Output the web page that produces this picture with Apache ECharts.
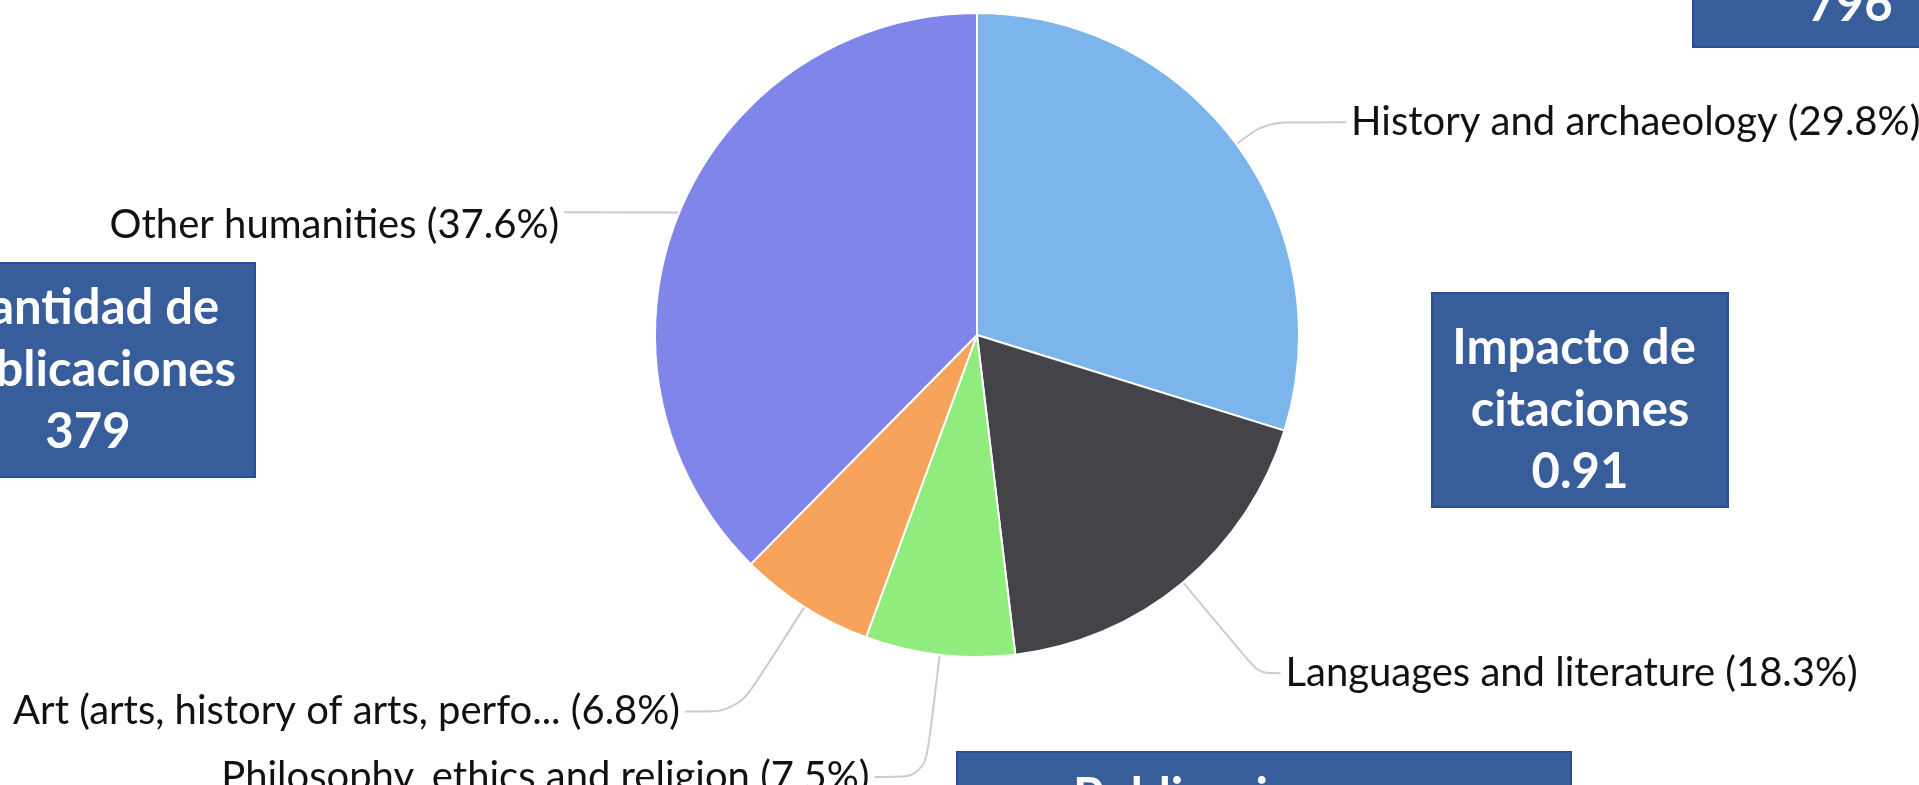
<!DOCTYPE html>
<html>
<head>
<meta charset="utf-8">
<script src="https://cdn.jsdelivr.net/npm/echarts@6/dist/echarts.min.js"></script>
<style>
html,body{margin:0;padding:0;background:#ffffff;overflow:hidden}
#chart{width:1919px;height:785px}
</style>
</head>
<body>
<div id="chart"></div>
<script>
// ---- data ----
const categories = [
  'History and archaeology',
  'Languages and literature',
  'Philosophy, ethics and religion',
  'Art (arts, history of arts, perfo...',
  'Other humanities'
];
const shares = [29.8, 18.3, 7.5, 6.8, 37.6];
const sliceColors = ['#7cb5ec', '#434348', '#90ed7d', '#f7a35c', '#8085e9'];

// overlay boxes text
const boxPublicationsLines = ['Cantidad de', 'publicaciones', '379'];
const boxImpactLines = ['Impacto de ', 'citaciones', '0.91'];
const boxTopRightLines = ['796'];
const boxBottomLines = ['Publicaciones'];

// label line styling (per slice)
const lineLength = [37, 118, 123, 124, 1];
const lineLength2 = [80, 22, 51, 53, 114];
const labelShiftY = [0, 0, 0, 0, 13];

const chart = echarts.init(document.getElementById('chart'), null, {renderer: 'canvas'});

const boxFill = '#375d9b';
const boxStroke = '#2c4c97';
const boxFont = {fontFamily: 'Lato', fontWeight: 'bold', fontSize: 49, lineHeight: 62, fill: '#ffffff'};

function boxText(lines, x, y, align) {
  return {
    type: 'text', z: 11,
    style: Object.assign({}, boxFont, {
      text: lines.join('\n'), x: x, y: y,
      align: align || 'center', verticalAlign: 'middle'
    })
  };
}
function boxRect(x, y, w, h) {
  return {
    type: 'rect', z: 10,
    shape: {x: x, y: y, width: w, height: h},
    style: {fill: boxFill, stroke: boxStroke, lineWidth: 2}
  };
}

const option = {
  animation: false,
  backgroundColor: '#ffffff',
  series: [{
    type: 'pie',
    center: [977, 335],
    radius: 322,
    startAngle: 90,
    clockwise: true,
    avoidLabelOverlap: false,
    itemStyle: {borderColor: '#ffffff', borderWidth: 2},
    label: {
      show: true,
      position: 'outside',
      formatter: '{b} ({c}%)',
      fontFamily: 'Lato',
      fontSize: 40,
      color: '#111111',
      distanceToLabelLine: 5
    },
    labelLine: {
      show: true,
      smooth: 0.3,
      lineStyle: {color: '#cccccc', width: 2}
    },
    labelLayout: function (params) {
      return {dy: labelShiftY[params.dataIndex]};
    },
    data: categories.map((name, i) => ({
      name: name,
      value: shares[i],
      itemStyle: {color: sliceColors[i]},
      labelLine: {length: lineLength[i], length2: lineLength2[i]}
    }))
  }],
  graphic: [
    boxRect(-79, 263, 334, 214),
    boxText(boxPublicationsLines, 88, 370),
    boxRect(1432, 293, 296, 214),
    boxText(boxImpactLines, 1580, 410),
    boxRect(1693, -170, 316, 217),
    boxText(boxTopRightLines, 1850, 5),
    boxRect(957, 752, 614, 100),
    boxText(boxBottomLines, 1073, 797, 'left')
  ]
};
chart.setOption(option);
</script>
</body>
</html>
